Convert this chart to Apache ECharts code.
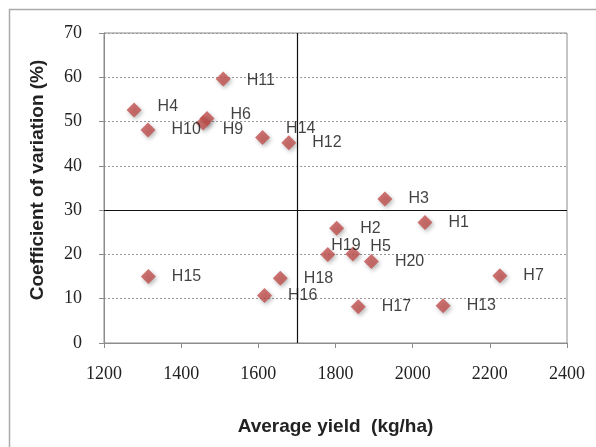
<!DOCTYPE html>
<html><head><meta charset="utf-8">
<script src="https://cdn.jsdelivr.net/npm/echarts@6/dist/echarts.min.js"></script>
<style>html,body{margin:0;padding:0;background:#fff}#c{width:596px;height:447px}</style>
</head><body><div id="c"></div>
<script>
const names = ['H1','H2','H3','H4','H5','H6','H7','H9','H10','H11','H12','H13','H14','H15','H16','H17','H18','H19','H20'];
const yieldVals = [2032,1803,1928,1278,1845,1467,2226,1457,1314,1509,1679,2079,1611,1315,1616,1859,1657,1780,1893];
const cvVals = [27.2,25.9,32.5,52.6,20.1,50.7,15.2,49.7,48.1,59.6,45.2,8.4,46.4,15.0,10.7,8.2,14.6,20.0,18.4];
const xTicks = [1200,1400,1600,1800,2000,2200,2400];
const yTicks = [0,10,20,30,40,50,60,70];
const refX = 1700, refY = 30;
// label nudges (style only)
const labelNudge = {H4:[0,-3],H6:[0,-4],H9:[-4,7],H14:[0,-9],H19:[-20,-9],H5:[-6,-7],H11:[0,2]};

const data = names.map((n,i)=>{
  const d = {name:n, value:[yieldVals[i], cvVals[i]]};
  if (labelNudge[n]) d.label = {offset: labelNudge[n]};
  return d;
});

const chart = echarts.init(document.getElementById('c'), null, {renderer:'canvas'});
chart.setOption({
  animation:false,
  backgroundColor:'#fff',
  graphic:[{type:'rect', shape:{x:9.5,y:9.5,width:620,height:460}, style:{fill:'none', stroke:'#aaa', lineWidth:1.5}, z:-1}],
  grid:{left:104, right:29, top:33, bottom:104, show:true, borderColor:'#8c8c8c', borderWidth:1},
  xAxis:{type:'value', min:xTicks[0], max:xTicks[xTicks.length-1], interval:200,
    axisLine:{show:true, lineStyle:{color:'#8c8c8c'}},
    axisTick:{show:true, length:5, inside:false, lineStyle:{color:'#8c8c8c'}},
    axisLabel:{fontFamily:'Liberation Serif', fontSize:18, color:'#222', margin:22, formatter:v=>String(v)},
    splitLine:{show:false},
    name:'Average yield  (kg/ha)', nameLocation:'middle', nameGap:74,
    nameTextStyle:{fontFamily:'Liberation Sans', fontWeight:'bold', fontSize:19, color:'#222'}},
  yAxis:{type:'value', min:yTicks[0], max:yTicks[yTicks.length-1], interval:10,
    axisLine:{show:true, lineStyle:{color:'#8c8c8c'}},
    axisTick:{show:true, length:5, lineStyle:{color:'#8c8c8c'}},
    axisLabel:{fontFamily:'Liberation Serif', fontSize:18, color:'#222', margin:22, formatter:v=>String(v)},
    splitLine:{show:true, lineStyle:{color:'#9a9a9a', type:[2,2], width:1}},
    name:'Coefficient of variation (%)', nameLocation:'middle', nameGap:57, nameRotate:90,
    nameTextStyle:{fontFamily:'Liberation Sans', fontWeight:'bold', fontSize:19, color:'#222', padding:[0,0,0,16]}},
  series:[{
    type:'scatter', symbol:'diamond', symbolSize:15, data:data,
    itemStyle:{color:'#c0504d', shadowColor:'rgba(0,0,0,0.35)', shadowBlur:4, shadowOffsetX:1.5, shadowOffsetY:2},
    label:{show:true, position:'right', distance:16, formatter:'{b}', fontFamily:'Liberation Sans', fontSize:16, color:'#111'},
    markLine:{silent:true, symbol:'none', label:{show:false}, lineStyle:{color:'#111', type:'solid', width:1.2},
      data:[{xAxis:refX},{yAxis:refY}]}
  }]
});
</script></body></html>
